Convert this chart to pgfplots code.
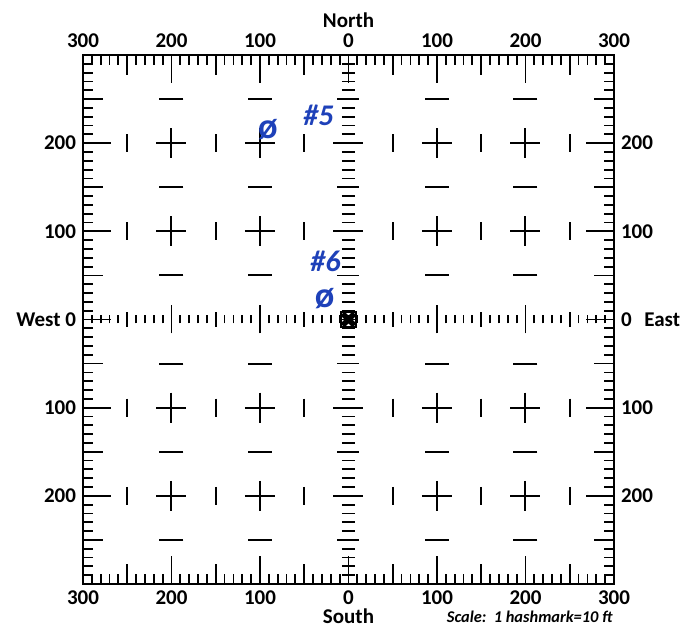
\documentclass[border=0pt]{standalone}
\usepackage{pgfplots}
\pgfplotsset{compat=1.18}
\usepackage{fontspec}
\setmainfont{Carlito}
\definecolor{ink}{RGB}{30,65,185}

\pgfplotsset{
  base/.style={
    width=265.5pt, height=264.5pt, scale only axis,
    xmin=-300, xmax=300, ymin=-300, ymax=300, enlargelimits=false,
    at={(0,0)}, anchor=south west,
    tick style={line width=0.9pt, black},
    ticklabel style={font=\fontsize{10.5}{12}\selectfont\bfseries},
    label style={font=\fontsize{10.5}{12}\selectfont\bfseries},
  },
  overlay/.style={base, axis line style={draw=none}},
}

\begin{document}
\begin{tikzpicture}
  % border, lower and left labels, grid markers
  \begin{axis}[base, name=ax, clip=false,
    axis line style={line width=1.2pt},
    tick align=inside, tick pos=both,
    xtick={-300,-200,...,300}, ytick={-300,-200,...,300},
    minor x tick num=9, minor y tick num=9,
    major tick length=14pt, minor tick length=5pt,
    xticklabel pos=lower, yticklabel pos=left,
    xticklabels={300,200,100,0,100,200,300},
    yticklabels={,200,100,West 0,100,200,},
    xlabel={South}, xlabel style={yshift=5pt},
  ]
    % crosses at the 100 ft points
    \addplot[only marks, mark=+, mark size=7.5pt, line width=1pt] coordinates {
      (-200,200) (-100,200) (100,200) (200,200)
      (-200,100) (-100,100) (100,100) (200,100)
      (-200,-100) (-100,-100) (100,-100) (200,-100)
      (-200,-200) (-100,-200) (100,-200) (200,-200)
    };
    % vertical bars between crosses
    \addplot[only marks, mark=|, mark size=4.5pt, line width=1pt] coordinates {
      (-250,200) (-150,200) (-50,200) (50,200) (150,200) (250,200)
      (-250,100) (-150,100) (-50,100) (50,100) (150,100) (250,100)
      (-250,-100) (-150,-100) (-50,-100) (50,-100) (150,-100) (250,-100)
      (-250,-200) (-150,-200) (-50,-200) (50,-200) (150,-200) (250,-200)
    };
    % horizontal bars between crosses
    \addplot[only marks, mark=-, mark size=6pt, line width=1pt] coordinates {
      (-200,250) (-100,250) (100,250) (200,250)
      (-200,150) (-100,150) (100,150) (200,150)
      (-200,50) (-100,50) (100,50) (200,50)
      (-200,-50) (-100,-50) (100,-50) (200,-50)
      (-200,-150) (-100,-150) (100,-150) (200,-150)
      (-200,-250) (-100,-250) (100,-250) (200,-250)
    };
    \node[anchor=base west, font=\fontsize{8.2}{9}\selectfont\bfseries\itshape]
      at (rel axis cs:0.672,-0.0737) {Scale:\ \ 1 hashmark=10 ft};
  \end{axis}

  % 50 ft ticks on the border
  \begin{axis}[overlay,
    tick align=inside, tick pos=both,
    xtick={-250,-150,...,250}, ytick={-250,-150,...,250},
    major tick length=10pt,
    xticklabels={}, yticklabels={},
  ]
  \end{axis}

  % upper and right labels
  \begin{axis}[overlay,
    major tick style={draw=none},
    xtick={-300,-200,...,300}, ytick={-200,-100,...,200},
    xticklabel pos=upper, yticklabel pos=right,
    xticklabels={300,200,100,0,100,200,300},
    yticklabels={200,100,0\hspace{0.6em}East,100,200},
    xlabel={North}, xlabel style={yshift=-3.5pt},
  ]
  \end{axis}

  % east-west line of hashmarks
  \begin{axis}[overlay,
    axis x line=middle, axis y line=none,
    tick align=center,
    xtick={-200,-100,100,200}, minor xtick={-290,-280,...,290},
    major tick length=14pt, minor tick length=4pt,
    xticklabels={},
  ]
  \end{axis}
  \begin{axis}[overlay,
    axis x line=middle, axis y line=none,
    tick align=center,
    xtick={-250,-150,...,250},
    major tick length=7.5pt,
    xticklabels={},
  ]
  \end{axis}

  % north-south line of hashmarks
  \begin{axis}[overlay,
    axis y line=middle, axis x line=none,
    tick align=center,
    ytick={-200,-100,100,200}, minor ytick={-290,-280,...,290},
    major tick length=15pt, minor tick length=6.5pt,
    yticklabels={},
  ]
  \end{axis}
  \begin{axis}[overlay, clip=false,
    axis y line=middle, axis x line=none,
    tick align=center,
    ytick={-250,-150,...,250},
    major tick length=11pt,
    yticklabels={},
  ]
    % origin mark
    \addplot[only marks, mark=x, mark size=4.2pt, line width=2.8pt] coordinates {(0,0)};
    \addplot[only marks, mark=square, mark size=3.8pt, line width=0.9pt] coordinates {(0,0)};
    % handwritten notes
    \addplot[draw=none, ink, nodes near coords, point meta=explicit symbolic,
      every node near coord/.append style={anchor=center, inner sep=0pt,
        font=\fontsize{15}{15}\selectfont\bfseries\itshape}]
      coordinates {(-34,232)[\#5] (-26,66)[\#6]};
    \addplot[draw=none, ink, nodes near coords, point meta=explicit symbolic,
      every node near coord/.append style={anchor=center, inner sep=0pt,
        font=\fontsize{18}{18}\selectfont\bfseries}]
      coordinates {(-91,215)[ø] (-27,24)[ø]};
  \end{axis}

  \pgfresetboundingbox
  \path[use as bounding box] (ax.south west) ++(-41.5pt,-21.5pt) rectangle ++(343pt,313.5pt);
\end{tikzpicture}
\end{document}
